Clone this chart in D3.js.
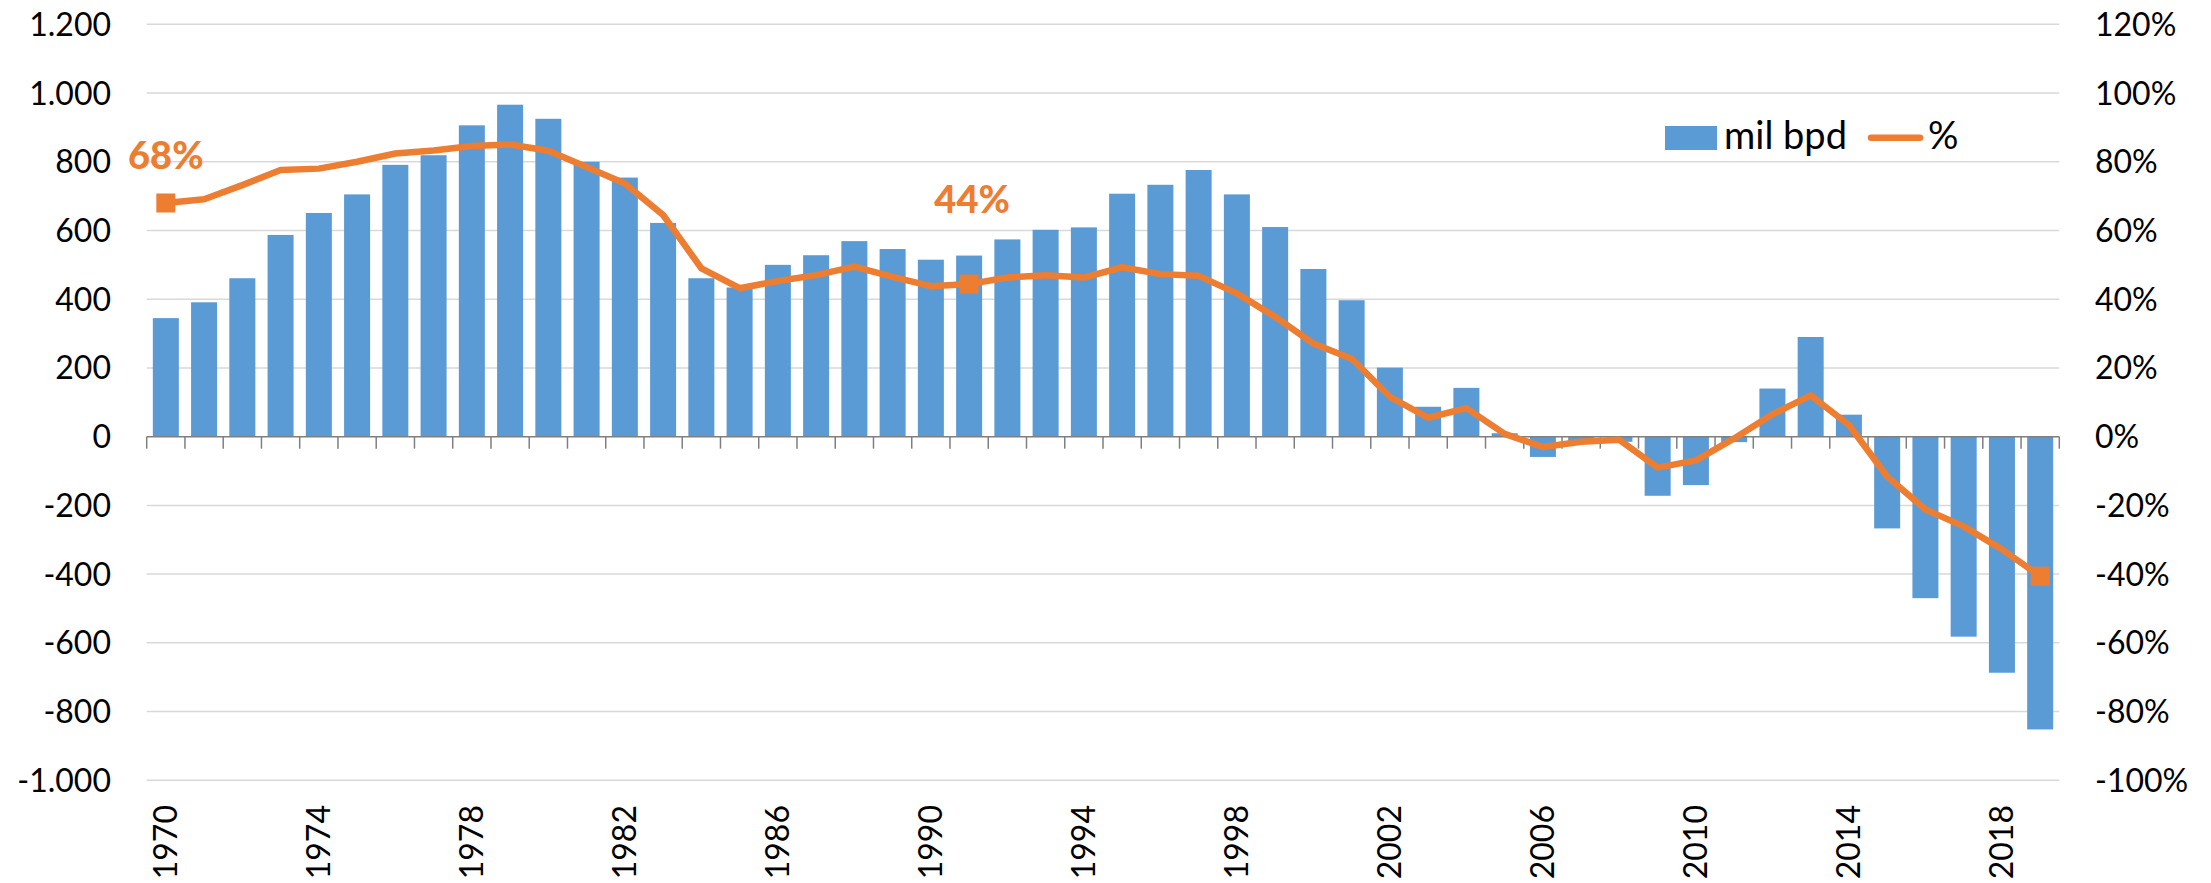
<!DOCTYPE html>
<html>
<head>
<meta charset="utf-8">
<script src="https://cdn.jsdelivr.net/npm/d3@7"></script>
<style>
  html, body { margin: 0; padding: 0; background: #fff; }
  svg { display: block; }
  text { font-family: Lato, "Open Sans", sans-serif; }
</style>
</head>
<body>
<svg id="chart" width="2211" height="883"></svg>
<script>
const years = d3.range(1970, 2020);
const bpdValues = [345,391,461,587,651,705,791,819,906,966,
                   925,800,754,622,461,434,500,528,569,546,
                   515,527,574,602,609,707,733,776,705,610,
                   488,397,201,87,142,10,-59,-20,-15,-172,
                   -141,-16,140,290,64,-267,-470,-582,-687,-852];
const pctValues = [68,69.1,73.2,77.6,78.0,80.0,82.4,83.3,84.6,85.0,
                   83.2,78.5,73.7,64.5,49.0,43.2,45.3,47.0,49.5,46.5,
                   43.8,44.4,46.3,47.0,46.3,49.3,47.3,46.8,41.7,34.9,
                   27.1,22.7,11.6,5.5,8.3,0.8,-3.0,-1.5,-0.9,-9.0,
                   -6.9,-0.5,6.5,12.0,3.4,-11.6,-21.2,-26.1,-32.8,-40.6];
const leftTicks = [-1000,-800,-600,-400,-200,0,200,400,600,800,1000,1200];
const rightTicks = [-100,-80,-60,-40,-20,0,20,40,60,80,100,120];
const yearLabels = years.filter(y => (y - 1970) % 4 === 0);
const markerYears = [1970, 1991, 2019];
const annotatedYears = [1970, 1991];
const legendLabels = ["mil bpd", "%"];

(function () {
const BLUE = "#5B9BD5", ORANGE = "#ED7D31";
const svg = d3.select("#chart");
const pLeft = 146.7, pRight = 2059.3, pTop = 24.3, pBottom = 780.3;

const x = d3.scaleBand().domain(years).range([pLeft, pRight]).paddingInner(0.32).paddingOuter(0.16);
const step = (pRight - pLeft) / years.length;
const y = d3.scaleLinear().domain([-1000, 1200]).range([pBottom, pTop]);
const y2 = d3.scaleLinear().domain([-100, 120]).range([pBottom, pTop]);
const cx = yr => x(yr) + x.bandwidth() / 2;

// gridlines
svg.append("g").selectAll("line").data(leftTicks.filter(t => t !== 0)).join("line")
  .attr("x1", pLeft).attr("x2", pRight)
  .attr("y1", d => y(d)).attr("y2", d => y(d))
  .attr("stroke", "#D9D9D9").attr("stroke-width", 1.5);

// left axis labels
const fmtLeft = d => d3.format(",")(d).replace(/,/g, ".").replace("\u2212", "-");
svg.append("g").selectAll("text").data(leftTicks).join("text")
  .attr("x", 111).attr("y", d => y(d)).attr("dy", "0.36em")
  .attr("text-anchor", "end").attr("font-size", 32).attr("fill", "#000")
  .text(fmtLeft);

// right axis labels
svg.append("g").selectAll("text").data(rightTicks).join("text")
  .attr("x", 2095).attr("y", d => y2(d)).attr("dy", "0.36em")
  .attr("text-anchor", "start").attr("font-size", 32).attr("fill", "#000")
  .text(d => d + "%");

// bars
svg.append("g").selectAll("rect").data(years).join("rect")
  .attr("x", d => x(d))
  .attr("width", x.bandwidth())
  .attr("y", (d, i) => y(Math.max(0, bpdValues[i])))
  .attr("height", (d, i) => Math.abs(y(bpdValues[i]) - y(0)))
  .attr("fill", BLUE);

// x axis line + ticks
const axisG = svg.append("g").attr("transform", `translate(0,${y(0)})`);
axisG.append("line").attr("x1", pLeft).attr("x2", pRight).attr("y1", 0).attr("y2", 0)
  .attr("stroke", "#7F7F7F").attr("stroke-width", 1.5);
axisG.selectAll("line.tick").data(d3.range(years.length + 1)).join("line")
  .attr("class", "tick")
  .attr("x1", i => pLeft + i * step).attr("x2", i => pLeft + i * step)
  .attr("y1", 0).attr("y2", 12)
  .attr("stroke", "#7F7F7F").attr("stroke-width", 1.5);

// year labels (rotated)
svg.append("g").selectAll("text").data(yearLabels).join("text")
  .attr("transform", d => `translate(${cx(d)},805) rotate(-90)`)
  .attr("dy", "0.36em").attr("text-anchor", "end")
  .attr("font-size", 32).attr("fill", "#000")
  .text(d => d);

// line
const line = d3.line().x((d, i) => cx(years[i])).y(d => y2(d));
svg.append("path").datum(pctValues)
  .attr("d", line).attr("fill", "none")
  .attr("stroke", ORANGE).attr("stroke-width", 6.5)
  .attr("stroke-linejoin", "round").attr("stroke-linecap", "round");

// markers
const ms = 19;
svg.append("g").selectAll("rect").data(markerYears).join("rect")
  .attr("x", d => cx(d) - ms / 2)
  .attr("y", d => y2(pctValues[years.indexOf(d)]) - ms / 2)
  .attr("width", ms).attr("height", ms)
  .attr("fill", ORANGE);

// annotations
const annOffset = { 1970: -34, 1991: -71 };
svg.append("g").selectAll("text").data(annotatedYears).join("text")
  .attr("x", d => cx(d) + (d === 1991 ? 3 : 0))
  .attr("y", d => y2(pctValues[years.indexOf(d)]) + annOffset[d])
  .attr("text-anchor", "middle").attr("font-size", 38).attr("font-weight", 900)
  .attr("fill", ORANGE)
  .text(d => Math.round(pctValues[years.indexOf(d)]) + "%");

// legend
const lg = svg.append("g");
lg.append("rect").attr("x", 1665).attr("y", 126).attr("width", 52).attr("height", 24).attr("fill", BLUE);
lg.append("text").attr("x", 1724).attr("y", 148.5).attr("font-size", 38).attr("fill", "#000").text(legendLabels[0]);
lg.append("line").attr("x1", 1871).attr("x2", 1920).attr("y1", 137.7).attr("y2", 137.7)
  .attr("stroke", ORANGE).attr("stroke-width", 6.5).attr("stroke-linecap", "round");
lg.append("text").attr("x", 1928).attr("y", 148.5).attr("font-size", 38).attr("fill", "#000").text(legendLabels[1]);
})();
</script>
</body>
</html>
